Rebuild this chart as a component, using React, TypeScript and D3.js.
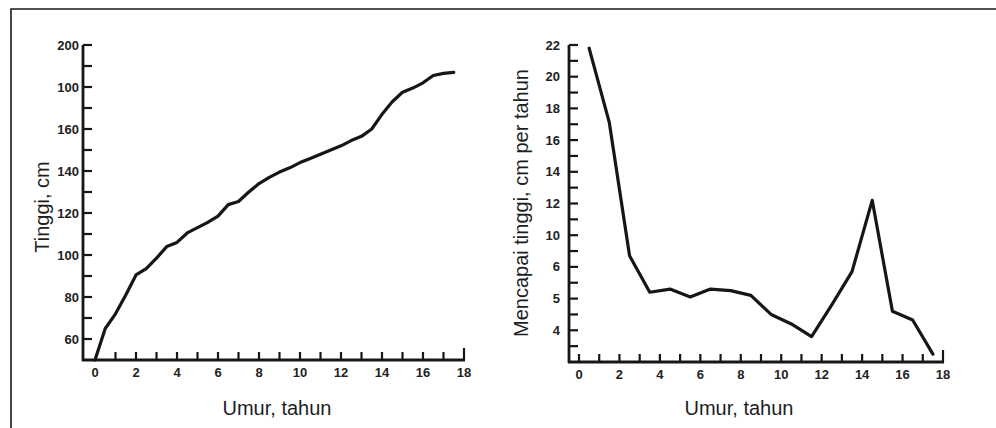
import { useEffect, useRef } from "react";
import * as d3 from "d3";

// Left chart: height (cm) by age (years)
const heightAges = [0, 0.5, 1, 1.5, 2, 2.5, 3, 3.5, 4, 4.5, 5, 5.5, 6, 6.5, 7, 7.5, 8, 8.5, 9, 9.5, 10, 10.5, 11, 11.5, 12, 12.5, 13, 13.5, 14, 14.5, 15, 15.5, 16, 16.5, 17, 17.5];
const heightValues = [50, 65, 72, 81, 90.5, 93.5, 98.5, 104, 106, 110.5, 113, 115.5, 118.5, 124, 125.5, 130, 134, 137, 139.5, 141.5, 144, 146, 148, 150, 152, 154.5, 156.5, 160, 167, 173, 177.5, 179.5, 182, 185.5, 186.5, 187];
const heightTickValues = [60, 80, 100, 120, 140, 160, 180, 200];
const heightTickLabels = ["60", "80", "100", "120", "140", "160", "100", "200"];

// Right chart: growth (cm per year) by age
const velocityAges = [0.5, 1.5, 2.5, 3.5, 4.5, 5.5, 6.5, 7.5, 8.5, 9.5, 10.5, 11.5, 12.5, 13.5, 14.5, 15.5, 16.5, 17.5];
const velocityValues = [21.8, 17.1, 8.7, 6.4, 6.6, 6.1, 6.6, 6.5, 6.2, 5.0, 4.4, 3.6, 5.6, 7.7, 12.2, 5.2, 4.65, 2.5];
const velocityTickValues = [4, 6, 8, 10, 12, 14, 16, 18, 20, 22];
const velocityTickLabels = ["4", "5", "6", "10", "12", "14", "16", "18", "20", "22"];

const ageTickValues = [0, 2, 4, 6, 8, 10, 12, 14, 16, 18];

const font = "'Liberation Sans', Arial, sans-serif";
const ink = "#161616";

interface PanelOpts {
  xs: number[];
  ys: number[];
  xRange: [number, number];
  yDomain: [number, number];
  yRange: [number, number];
  axisX: number;
  minorY: number[];
  yTicks: number[];
  yLabels: string[];
  yLabelX: number;
  minorX: number[];
  yTitle: string;
  yTitleX: number;
  yTitleY: number;
  xTitleX: number;
}

function drawPanel(svg: d3.Selection<SVGSVGElement, unknown, null, undefined>, o: PanelOpts) {
  const x = d3.scaleLinear().domain([0, 18]).range(o.xRange);
  const y = d3.scaleLinear().domain(o.yDomain).range(o.yRange);
  const g = svg.append("g");
  const bottom = o.yRange[0];
  const top = o.yRange[1];

  // axis lines
  g.append("line")
    .attr("x1", o.axisX).attr("x2", o.axisX)
    .attr("y1", top).attr("y2", bottom + 1)
    .attr("stroke", ink).attr("stroke-width", 2.8);
  g.append("line")
    .attr("x1", o.axisX - 1).attr("x2", x(18) + 1)
    .attr("y1", bottom).attr("y2", bottom)
    .attr("stroke", ink).attr("stroke-width", 2.8);

  // y ticks (pointing inward)
  g.selectAll(".ytick")
    .data(o.minorY)
    .enter()
    .append("line")
    .attr("x1", o.axisX).attr("x2", o.axisX + 9)
    .attr("y1", (d) => y(d)).attr("y2", (d) => y(d))
    .attr("stroke", ink).attr("stroke-width", 2.2);

  g.selectAll(".ylab")
    .data(o.yTicks)
    .enter()
    .append("text")
    .attr("x", o.yLabelX)
    .attr("y", (d) => y(d) + 4.5)
    .attr("text-anchor", "end")
    .attr("font-family", font)
    .attr("font-weight", "bold")
    .attr("font-size", 13)
    .attr("fill", "#222")
    .text((_, i) => o.yLabels[i]);

  // x ticks (pointing up)
  g.selectAll(".xtick")
    .data(o.minorX)
    .enter()
    .append("line")
    .attr("x1", (d) => x(d)).attr("x2", (d) => x(d))
    .attr("y1", bottom).attr("y2", (d) => bottom - (d === 18 ? 12 : 8))
    .attr("stroke", ink).attr("stroke-width", 2.2);

  g.selectAll(".xlab")
    .data(ageTickValues)
    .enter()
    .append("text")
    .attr("x", (d) => x(d))
    .attr("y", bottom + 17)
    .attr("text-anchor", "middle")
    .attr("font-family", font)
    .attr("font-weight", "bold")
    .attr("font-size", 13)
    .attr("fill", "#222")
    .text((d) => String(d));

  // curve
  const line = d3
    .line<number>()
    .x((_, i) => x(o.xs[i]))
    .y((d) => y(d));
  g.append("path")
    .attr("d", line(o.ys) || "")
    .attr("fill", "none")
    .attr("stroke", ink)
    .attr("stroke-width", 3.2)
    .attr("stroke-linejoin", "round")
    .attr("stroke-linecap", "round");

  // titles
  g.append("text")
    .attr("transform", `translate(${o.yTitleX},${o.yTitleY}) rotate(-90)`)
    .attr("text-anchor", "middle")
    .attr("font-family", font)
    .attr("font-size", 20)
    .attr("fill", "#1e1e1e")
    .text(o.yTitle);
  g.append("text")
    .attr("x", o.xTitleX)
    .attr("y", 415)
    .attr("text-anchor", "middle")
    .attr("font-family", font)
    .attr("font-size", 20)
    .attr("fill", "#1e1e1e")
    .text("Umur, tahun");
}

export default function App() {
  const svgRef = useRef<SVGSVGElement | null>(null);

  useEffect(() => {
    if (!svgRef.current) return;
    d3.select(svgRef.current).selectAll("*").remove();
    const svg = d3.select(svgRef.current);

    svg.append("rect").attr("width", 996).attr("height", 428).attr("fill", "#fff");

    // scan frame
    svg.append("path")
      .attr("d", "M11,428 V9 H996")
      .attr("fill", "none")
      .attr("stroke", "#1a1a1a")
      .attr("stroke-width", 1.6);

    drawPanel(svg, {
      xs: heightAges,
      ys: heightValues,
      xRange: [95, 464],
      yDomain: [50, 200],
      yRange: [360, 45],
      axisX: 83,
      minorY: d3.range(60, 201, 10),
      yTicks: heightTickValues,
      yLabels: heightTickLabels,
      yLabelX: 79,
      minorX: d3.range(1, 19, 1),
      yTitle: "Tinggi, cm",
      yTitleX: 49,
      yTitleY: 207,
      xTitleX: 277,
    });

    drawPanel(svg, {
      xs: velocityAges,
      ys: velocityValues,
      xRange: [579, 943],
      yDomain: [2, 22],
      yRange: [362, 45],
      axisX: 569,
      minorY: d3.range(3, 23, 1),
      yTicks: velocityTickValues,
      yLabels: velocityTickLabels,
      yLabelX: 560,
      minorX: d3.range(0, 19, 1),
      yTitle: "Mencapai tinggi, cm per tahun",
      yTitleX: 528,
      yTitleY: 203,
      xTitleX: 739,
    });
  }, []);

  return (
    <svg
      ref={svgRef}
      width={996}
      height={428}
      style={{ position: "absolute", left: 0, top: 0, display: "block" }}
    ></svg>
  );
}
